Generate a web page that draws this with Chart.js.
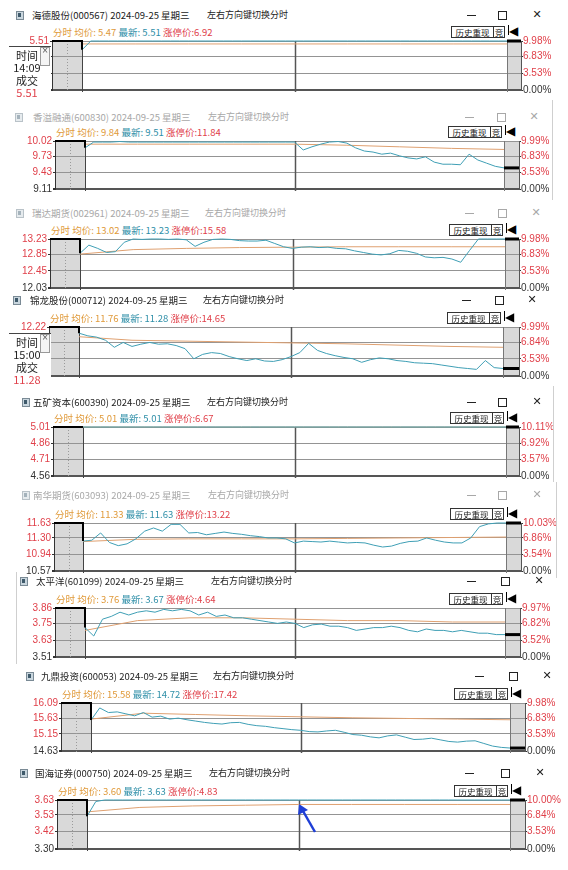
<!DOCTYPE html>
<html lang="zh">
<head>
<meta charset="UTF-8">
<title>分时走势</title>
<script src="https://cdn.jsdelivr.net/npm/chart.js"></script>
<style>
  html, body { margin: 0; padding: 0; background: #fff; }
  body { width: 568px; height: 870px; position: relative; overflow: hidden; font-family: "Noto Sans CJK SC", sans-serif; }
</style>
</head>
<body>
<script>
// minutes after 09:30, 0..240 (midday break squeezed out)
const minutes = [0,5,10,15,20,25,30,35,40,45,50,55,60,65,70,75,80,85,90,95,100,105,110,115,120,
                 125,130,135,140,145,150,155,160,165,170,175,180,185,190,195,200,205,210,215,220,225,230,235,240];
const avgMinutes = [0,30,60,90,120,150,180,210,240];

const names = ['海德股份(000567)','香溢融通(600830)','瑞达期货(002961)','锦龙股份(000712)','五矿资本(600390)',
               '南华期货(603093)','太平洋(601099)','九鼎投资(600053)','国海证券(000750)'];
const avgLabels = ['5.47','9.84','13.02','11.76','5.01','11.33','3.76','15.58','3.60'];
const lastLabels = ['5.51','9.51','13.23','11.28','5.01','11.63','3.67','14.72','3.63'];
const limitLabels = ['6.92','11.84','15.58','14.65','6.67','13.22','4.64','17.42','4.83'];
const auction = [5.51, 10.02, 13.23, 12.22, 5.01, 11.63, 3.86, 16.09, 3.63];

const price1 = [5.42,5.51,5.51,5.51,5.51,5.51,5.51,5.51,5.51,5.51,5.51,5.51,5.51,5.51,5.51,5.51,5.51,5.51,5.51,5.51,5.51,5.51,5.51,5.51,5.51,
                5.51,5.51,5.51,5.51,5.51,5.51,5.51,5.51,5.51,5.51,5.51,5.51,5.51,5.51,5.51,5.51,5.51,5.51,5.51,5.51,5.51,5.51,5.51,5.51];
const price2 = [9.89,10.00,10.00,10.00,10.01,10.00,10.00,10.00,10.00,10.00,10.00,10.00,10.00,10.00,10.00,10.00,10.00,10.00,10.00,10.00,10.00,10.00,10.00,10.00,10.00,
                9.85,9.91,9.96,10.00,10.01,9.98,9.89,9.83,9.81,9.77,9.79,9.74,9.70,9.68,9.72,9.62,9.58,9.58,9.57,9.77,9.66,9.60,9.54,9.51];
const price3 = [12.88,13.08,13.00,12.90,12.92,13.15,13.23,13.22,13.23,13.23,13.22,13.23,13.21,13.05,13.15,13.22,13.23,13.22,13.19,13.18,13.18,13.20,13.12,13.04,13.00,
                13.03,13.04,13.02,13.03,13.00,12.99,12.94,12.90,12.86,12.84,12.87,12.95,12.93,12.88,12.79,12.77,12.78,12.74,12.66,12.95,13.23,13.23,13.23,13.23];
const price4 = [12.08,12.02,11.99,11.92,11.76,11.87,11.78,11.83,11.87,11.83,11.84,11.80,11.73,11.50,11.60,11.64,11.62,11.55,11.50,11.46,11.50,11.45,11.44,11.48,11.55,
                11.64,11.85,11.69,11.62,11.57,11.53,11.50,11.42,11.48,11.52,11.50,11.46,11.44,11.41,11.40,11.39,11.36,11.33,11.30,11.28,11.26,11.46,11.30,11.28];
const price5 = [5.01,5.01,5.01,5.01,5.01,5.01,5.01,5.01,5.01,5.01,5.01,5.01,5.01,5.01,5.01,5.01,5.01,5.01,5.01,5.01,5.01,5.01,5.01,5.01,5.01,
                5.01,5.01,5.01,5.01,5.01,5.01,5.01,5.01,5.01,5.01,5.01,5.01,5.01,5.01,5.01,5.01,5.01,5.01,5.01,5.01,5.01,5.01,5.01,5.01];
const price6 = [11.23,11.25,11.41,11.20,11.13,11.17,11.28,11.45,11.52,11.45,11.60,11.60,11.41,11.42,11.37,11.40,11.43,11.40,11.38,11.35,11.33,11.30,11.30,11.28,11.19,
                11.23,11.22,11.21,11.23,11.21,11.19,11.20,11.19,11.14,11.10,11.12,11.18,11.22,11.23,11.30,11.25,11.21,11.19,11.19,11.30,11.55,11.61,11.63,11.63];
const price7 = [3.72,3.66,3.78,3.80,3.83,3.81,3.83,3.84,3.83,3.85,3.84,3.85,3.84,3.81,3.83,3.80,3.81,3.79,3.79,3.78,3.77,3.76,3.75,3.76,3.75,
                3.72,3.74,3.745,3.73,3.73,3.72,3.70,3.71,3.72,3.72,3.73,3.72,3.70,3.69,3.71,3.70,3.70,3.69,3.70,3.69,3.68,3.68,3.67,3.67];
const price8 = [15.57,15.94,15.80,15.82,15.76,15.70,15.80,15.66,15.69,15.60,15.63,15.58,15.54,15.50,15.47,15.45,15.49,15.50,15.44,15.40,15.38,15.34,15.31,15.28,15.26,
                15.22,15.21,15.24,15.26,15.20,15.13,15.11,15.06,15.03,15.09,15.12,15.05,14.98,14.99,15.02,14.97,14.92,14.90,14.93,14.94,14.86,14.78,14.74,14.72];
const price9 = [3.52,3.62,3.63,3.63,3.63,3.63,3.63,3.63,3.63,3.63,3.63,3.63,3.63,3.63,3.63,3.63,3.63,3.63,3.63,3.63,3.63,3.63,3.63,3.63,3.63,
                3.63,3.63,3.63,3.63,3.63,3.63,3.63,3.63,3.63,3.63,3.63,3.63,3.63,3.63,3.63,3.63,3.63,3.63,3.63,3.63,3.63,3.63,3.63,3.63];

const avg1 = [5.48,5.48,5.48,5.48,5.48,5.48,5.48,5.48,5.48];
const avg2 = [9.96,9.96,9.96,9.96,9.96,9.94,9.91,9.88,9.86];
const avg3 = [12.86,12.97,13.00,13.02,13.03,13.04,13.04,13.04,13.04];
const avg4 = [12.00,11.92,11.90,11.88,11.86,11.84,11.81,11.78,11.76];
const avg5 = [5.01,5.01,5.01,5.01,5.01,5.01,5.01,5.01,5.01];
const avg6 = [11.22,11.27,11.28,11.28,11.28,11.29,11.30,11.31,11.32];
const avg7 = [3.70,3.77,3.79,3.79,3.78,3.77,3.77,3.76,3.76];
const avg8 = [15.60,15.78,15.74,15.70,15.67,15.64,15.62,15.60,15.58];
const avg9 = [3.55,3.58,3.59,3.595,3.60,3.60,3.60,3.60,3.60];

const axis1 = [5.51,5.35,5.18,5.01];     const pct1 = ['9.98%','6.83%','3.53%','0.00%'];
const axis2 = [10.02,9.73,9.43,9.11];    const pct2 = ['9.99%','6.83%','3.53%','0.00%'];
const axis3 = [13.23,12.85,12.45,12.03]; const pct3 = ['9.98%','6.83%','3.53%','0.00%'];
const axis4 = [12.22,11.87,11.50,11.11]; const pct4 = ['9.99%','6.84%','3.53%','0.00%'];
const axis5 = [5.01,4.86,4.71,4.56];     const pct5 = ['10.11%','6.92%','3.57%','0.00%'];
const axis6 = [11.63,11.30,10.94,10.57]; const pct6 = ['10.03%','6.86%','3.54%','0.00%'];
const axis7 = [3.86,3.75,3.63,3.51];     const pct7 = ['9.97%','6.82%','3.52%','0.00%'];
const axis8 = [16.09,15.63,15.15,14.63]; const pct8 = ['9.98%','6.83%','3.53%','0.00%'];
const axis9 = [3.63,3.53,3.42,3.30];     const pct9 = ['10.00%','6.84%','3.53%','0.00%'];

const prices = [price1,price2,price3,price4,price5,price6,price7,price8,price9];
const avgs = [avg1,avg2,avg3,avg4,avg5,avg6,avg7,avg8,avg9];
const axes = [axis1,axis2,axis3,axis4,axis5,axis6,axis7,axis8,axis9];
const pcts = [pct1,pct2,pct3,pct4,pct5,pct6,pct7,pct8,pct9];

// where each screenshot window sits on the page
const layout = [
  {top:41,  bottom:89.5, left:52, box:82, end:507, right:521, titleY:15,  iconX:16, nameX:32, hintX:207, ctrl:[471,502,537], active:true},
  {top:141, bottom:189,  left:55, box:85, end:504, right:519, titleY:117, iconX:15, nameX:33, hintX:208, ctrl:[469,501,534], active:false},
  {top:239, bottom:287.5,left:50, box:80, end:505, right:519, titleY:213, iconX:16, nameX:32, hintX:205, ctrl:[469,502,536], active:false},
  {top:327, bottom:376,  left:49, box:79, end:503, right:519, titleY:300, iconX:13, nameX:30, hintX:203, ctrl:[466,499,532], active:true},
  {top:427, bottom:476,  left:53, box:83, end:506, right:519, titleY:402, iconX:22, nameX:33, hintX:207, ctrl:[471,502,537], active:true},
  {top:523, bottom:571,  left:54, box:83, end:506, right:521, titleY:495, iconX:22, nameX:33, hintX:208, ctrl:[471,502,537], active:false},
  {top:608, bottom:657,  left:55, box:85, end:505, right:520, titleY:581, iconX:20, nameX:36, hintX:211, ctrl:[471,505,539], active:true},
  {top:703, bottom:751,  left:61, box:91, end:510, right:525, titleY:676, iconX:26, nameX:41, hintX:213, ctrl:[479,513,547], active:true},
  {top:800, bottom:849,  left:57, box:87, end:510, right:525, titleY:773, iconX:20, nameX:35, hintX:209, ctrl:[469,505,540], active:true}
];

const TEAL = '#3f9fb5', ORANGE = '#dfa070', RED = '#e0404a', DARK = '#333';

Chart.defaults.font.family = '"Liberation Sans", Arial, sans-serif';
Chart.defaults.font.size = 10;

function el(css, text) {
  const d = document.createElement('div');
  d.style.cssText = 'position:absolute;white-space:nowrap;' + css;
  if (text != null) d.textContent = text;
  document.body.appendChild(d);
  return d;
}

// gray auction / after-close boxes and the session separators
const sessionPlugin = {
  id: 'session',
  beforeDraw(chart) {
    const { ctx, chartArea: a, scales: { x } } = chart;
    const x0 = x.getPixelForValue(0), x1 = x.getPixelForValue(240);
    ctx.save();
    ctx.fillStyle = '#d9d9d9';
    ctx.fillRect(a.left, a.top, x0 - a.left, a.bottom - a.top);
    ctx.fillRect(x1, a.top, a.right - x1, a.bottom - a.top);
    ctx.restore();
  },
  beforeDatasetsDraw(chart) {
    const { ctx, chartArea: a, scales: { x } } = chart;
    const vline = (m, color, w, dash) => {
      const px = Math.round(x.getPixelForValue(m)) + 0.5;
      ctx.save();
      ctx.strokeStyle = color; ctx.lineWidth = w; ctx.setLineDash(dash || []);
      ctx.beginPath(); ctx.moveTo(px, a.top); ctx.lineTo(px, a.bottom + 2); ctx.stroke();
      ctx.restore();
    };
    vline(x.min / 2, '#9a9a9a', 1, [1, 2]);
    vline(0, '#444', 1);
    vline(120, '#555', 1.5);
    vline(240, '#777', 1);
  }
};

function drawPanel(i) {
  const L = layout[i];
  const col = L.active ? '#222' : '#a8a8a8';

  // window title bar
  el(`left:${L.iconX}px;top:${L.titleY-4}px;width:6px;height:7px;border:1px solid ${L.active?'#7a8a95':'#b9c2c8'};background:${L.active?'#c9d6de':'#e6ebee'}`);
  el(`left:${L.iconX+2}px;top:${L.titleY-2}px;width:3px;height:4px;background:${L.active?'#3f5a6b':'#a5b3bc'}`);
  el(`left:${L.nameX}px;top:${L.titleY-7}px;font-size:9.5px;line-height:14px;color:${col}`, names[i] + ' 2024-09-25 星期三');
  el(`left:${L.hintX}px;top:${L.titleY-7}px;font-size:9px;line-height:14px;color:${col}`, '左右方向键切换分时');
  el(`left:${L.ctrl[0]-4}px;top:${L.titleY}px;width:9px;height:1px;background:${col}`);
  el(`left:${L.ctrl[1]-4}px;top:${L.titleY-4}px;width:7px;height:7px;border:1px solid ${col}`);
  el(`left:${L.ctrl[2]-6}px;top:${L.titleY-8}px;width:12px;text-align:center;font-size:11px;line-height:16px;color:${col};font-family:"DejaVu Sans"`, '✕');

  // info row
  const info = el(`left:${L.left+1}px;top:${L.top-16}px;font-size:9.5px;line-height:14px`);
  info.innerHTML = `<span style="color:#e09a3a">分时 均价: ${avgLabels[i]}</span> ` +
                   `<span style="color:#2f8fa8">最新: ${lastLabels[i]}</span> ` +
                   `<span style="color:${RED}">涨停价:${limitLabels[i]}</span>`;

  // buttons above the right box
  const bt = L.top - 15;
  el(`left:${L.end-56}px;top:${bt}px;width:41px;height:10px;border:1px solid #333;background:#fff;font-size:8.5px;line-height:10px;text-align:center;color:#222`, '历史重现');
  el(`left:${L.end-14}px;top:${bt}px;width:10px;height:10px;border:1px solid #333;background:#fff;font-size:8.5px;line-height:10px;text-align:center;color:#222`, '竞');
  el(`left:${L.end+1}px;top:${bt-1}px;width:1px;height:10px;background:#000`);
  el(`left:${L.end+2}px;top:${bt-2}px;font-size:12px;line-height:14px;color:#000;font-weight:bold;font-family:"DejaVu Sans"`, '◀');

  // chart
  const pad = 10;
  const ppm = (L.end - L.box) / 240;
  const xMin = -(L.box - L.left) / ppm;
  const xMax = 240 + (L.right - L.end) / ppm;
  const t = axes[i];
  const lo = t[t.length - 1], hi = t[0];
  const canvas = document.createElement('canvas');
  canvas.width = 568;
  canvas.height = Math.round(L.bottom - L.top) + 2 * pad;
  canvas.style.cssText = `position:absolute;left:0;top:${L.top - pad}px`;
  document.body.appendChild(canvas);

  const p = prices[i];
  const last = p[p.length - 1];
  const tickList = () => t.slice().reverse().map(v => ({ value: v }));

  new Chart(canvas, {
    type: 'line',
    data: {
      datasets: [
        { data: [{x: xMin, y: auction[i]}, {x: 0, y: auction[i]}, {x: 0, y: p[0]}], borderColor: '#000', borderWidth: 2 },
        { data: [{x: 240, y: last}, {x: xMax, y: last}], borderColor: '#000', borderWidth: 3 },
        { data: minutes.map((m, k) => ({x: m, y: p[k]})), borderColor: TEAL, borderWidth: 1 },
        { data: avgMinutes.map((m, k) => ({x: m, y: avgs[i][k]})), borderColor: ORANGE, borderWidth: 1 }
      ]
    },
    options: {
      responsive: false,
      animation: false,
      devicePixelRatio: 1,
      layout: { padding: { top: pad, bottom: pad, left: 0, right: 0 } },
      elements: { point: { radius: 0 }, line: { tension: 0 } },
      datasets: { line: { clip: 4 } },
      plugins: { legend: { display: false }, tooltip: { enabled: false } },
      scales: {
        x: { type: 'linear', min: xMin, max: xMax, display: false },
        y: {
          position: 'left', min: lo, max: hi,
          afterFit: s => { s.width = L.left; },
          afterBuildTicks: s => { s.ticks = tickList(); },
          ticks: {
            autoSkip: false, padding: 1,
            callback: v => v.toFixed(2),
            color: c => c.tick && c.tick.value === lo ? DARK : RED
          },
          grid: {
            color: c => c.tick && c.tick.value === lo ? '#555' : '#949494',
            lineWidth: c => c.tick && c.tick.value === lo ? 2 : 1,
            tickLength: 2, tickColor: '#333'
          },
          border: { color: '#333' }
        },
        y2: {
          position: 'right', min: lo, max: hi,
          afterFit: s => { s.width = 568 - L.right; },
          afterBuildTicks: s => { s.ticks = tickList(); },
          ticks: {
            autoSkip: false, padding: 0,
            callback: v => pcts[i][t.indexOf(v)],
            color: c => c.tick && c.tick.value === lo ? DARK : RED
          },
          grid: { drawOnChartArea: false, tickLength: 2, tickColor: '#333' },
          border: { color: '#555' }
        }
      }
    },
    plugins: [sessionPlugin]
  });
}

for (let i = 0; i < 9; i++) drawPanel(i);

// crosshair read-out boxes on the left of panels 1 and 4
function readout(top, time, val) {
  el(`left:9px;top:${top}px;width:42px;height:50px;background:#fff;border-top:1px solid #444;z-index:2`);
  el(`left:40px;top:${top+1}px;width:8px;height:17px;border:1px solid #999;background:#f4f4f4;z-index:3`);
  el(`left:40px;top:${top}px;width:10px;text-align:center;font-size:8px;line-height:10px;color:#555;z-index:4;font-family:"DejaVu Sans"`, '×');
  const rows = [['时间', '#222', 9], [time, '#222', 21], ['成交', '#222', 34], [val, RED, 46]];
  rows.forEach(r => el(`left:12px;top:${top + r[2] - 7}px;width:30px;text-align:center;font-size:11px;line-height:14px;color:${r[1]};z-index:4`, r[0]));
}
readout(46, '14:09', '5.51');
readout(333, '15:00', '11.28');

// window edges visible in the screenshot
el('left:552px;top:100px;width:1px;height:100px;background:#cfcfcf');
el('left:553px;top:386px;width:1px;height:96px;background:#cfcfcf');
el('left:556px;top:482px;width:1px;height:96px;background:#cfcfcf');
el('left:16px;top:572px;width:1px;height:92px;background:#cfcfcf');

// blue annotation arrow in the last panel
const svgWrap = el('left:0;top:0;width:568px;height:870px;z-index:5;pointer-events:none');
svgWrap.innerHTML = '<svg width="568" height="870"><line x1="315" y1="832" x2="303" y2="811" stroke="#1f3fd6" stroke-width="2.5"/>' +
  '<polygon points="299,804 298,815 308,810" fill="#1f3fd6"/></svg>';
</script>
</body>
</html>
